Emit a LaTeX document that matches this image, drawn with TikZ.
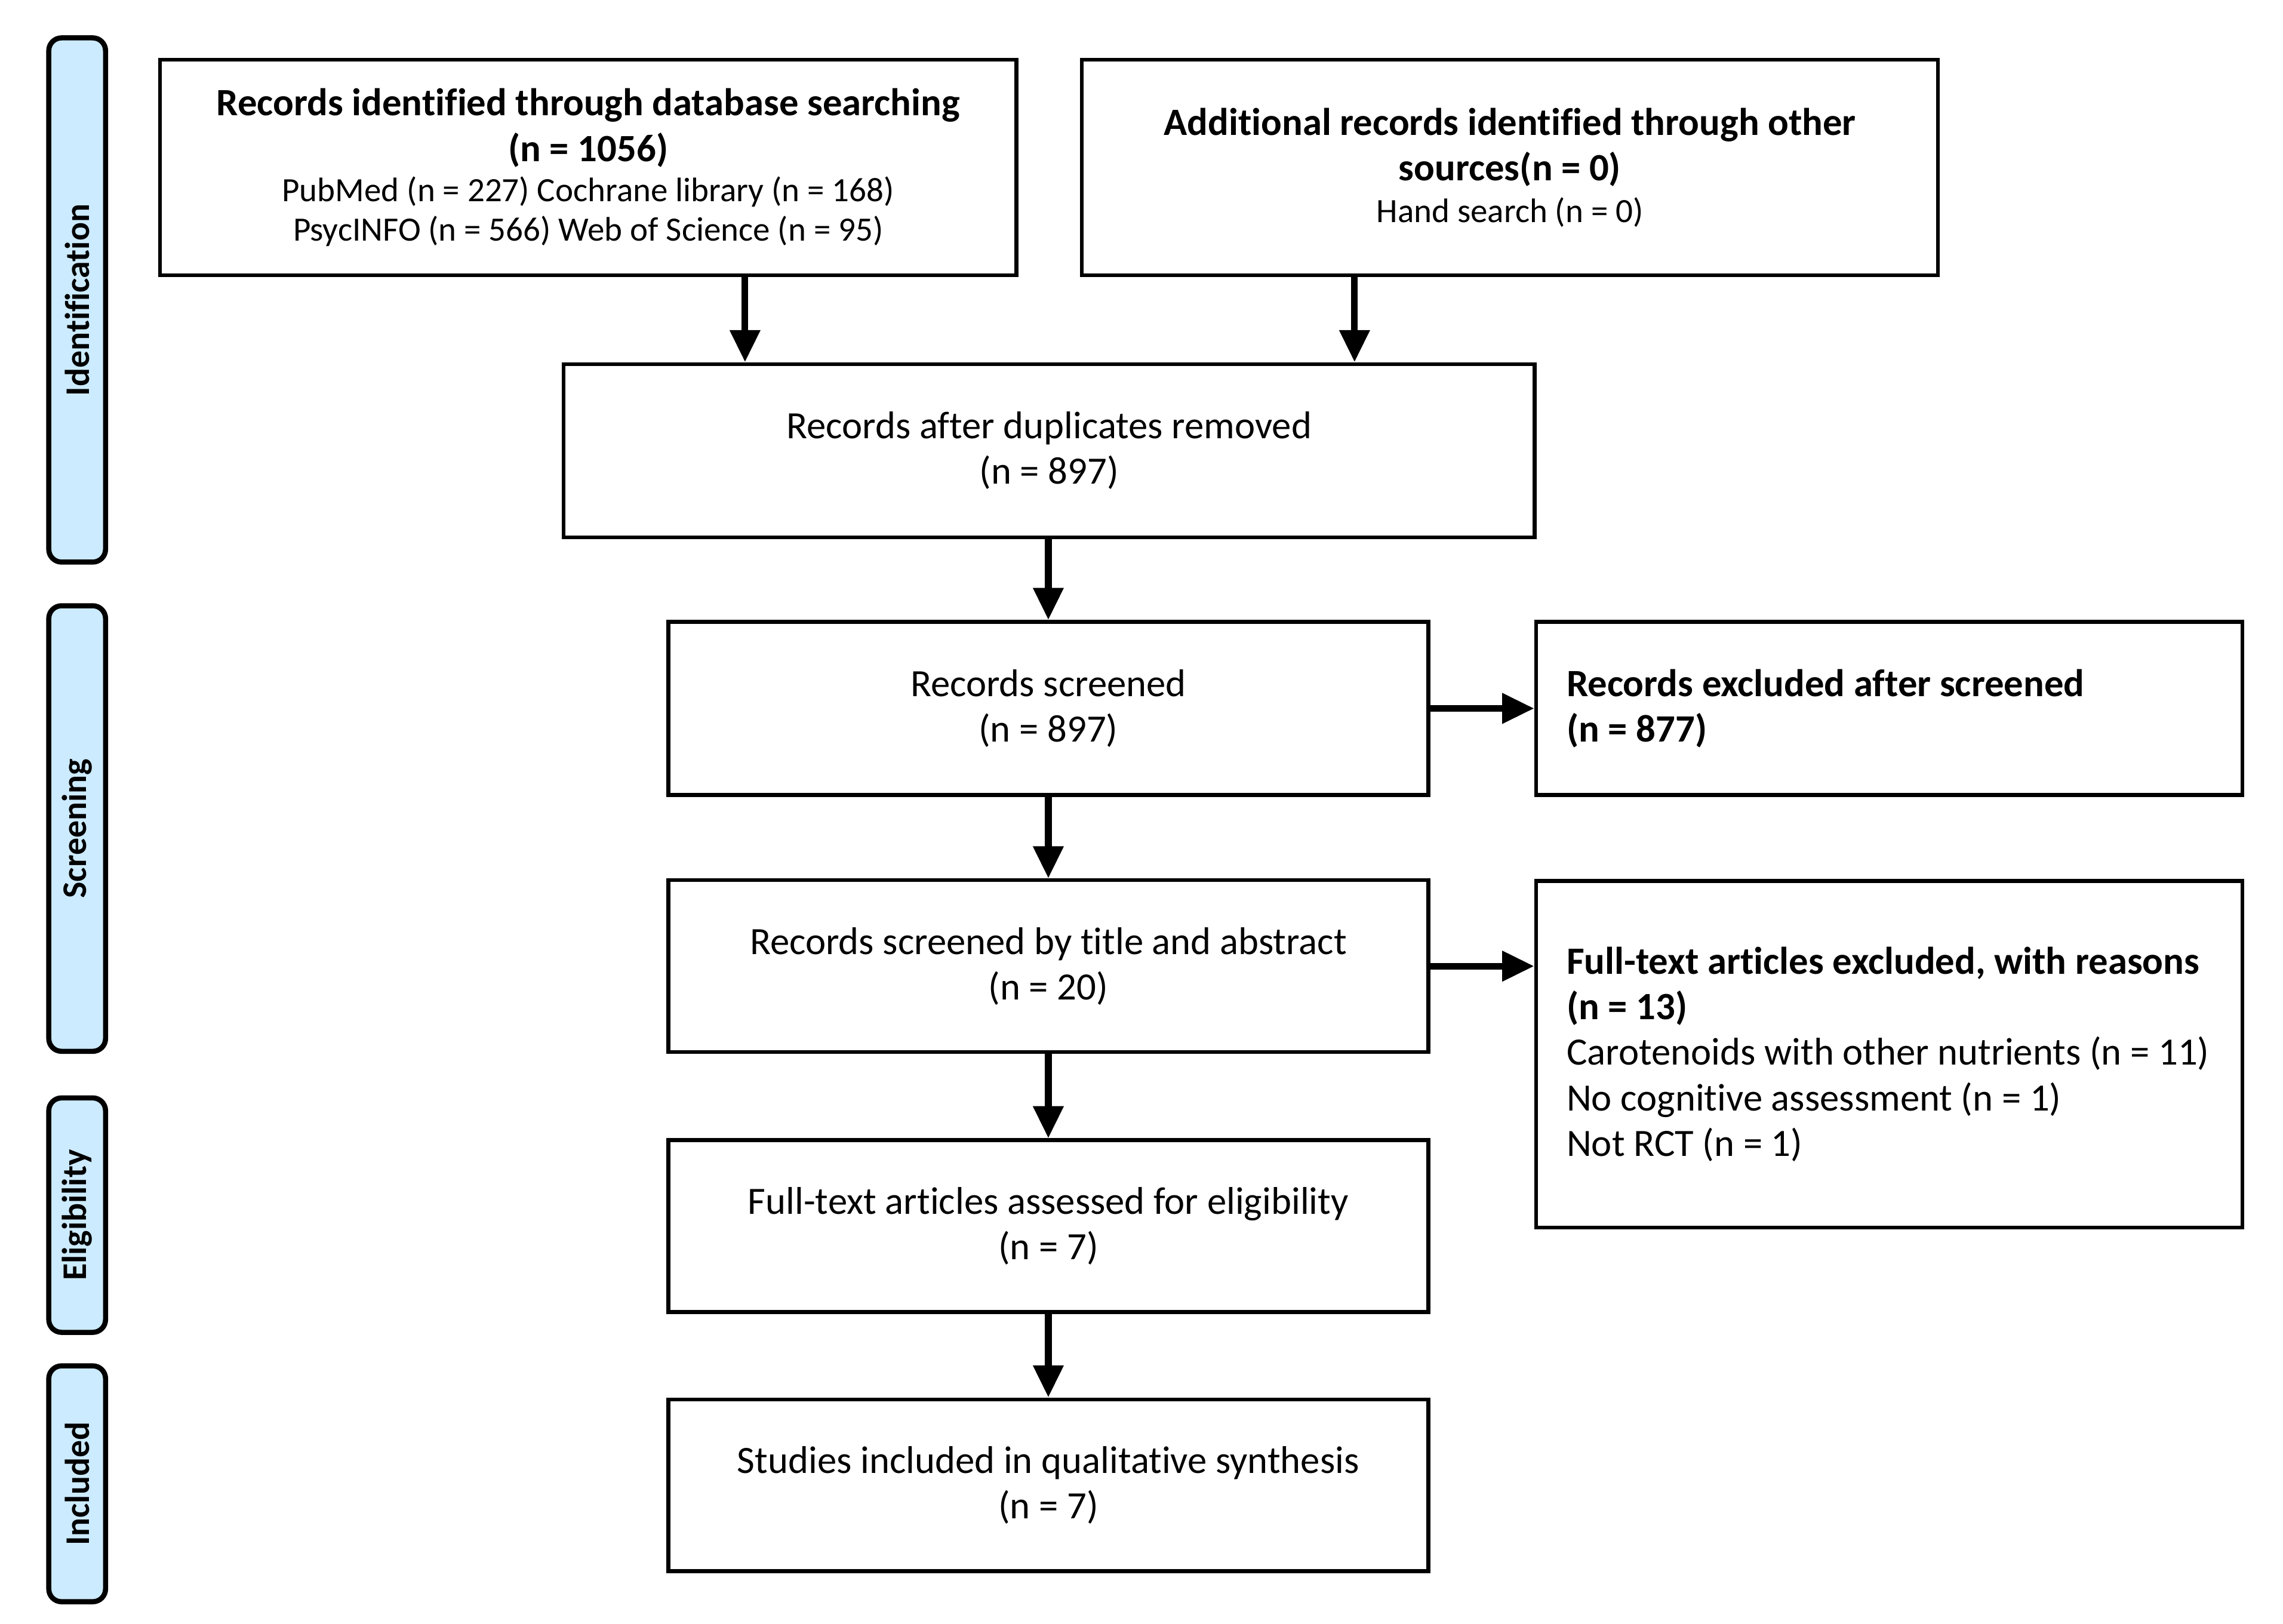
\documentclass[tikz,border=0pt]{standalone}
\usepackage{fontspec}
\setmainfont{Carlito}[Ligatures=NoCommon]
\usepackage{tikz}
\usetikzlibrary{arrows.meta,positioning,calc}
\definecolor{cStage}{HTML}{CCEBFF}
\newcommand{\srcfont}{\fontsize{13.3}{16}\selectfont}

\begin{document}
\begin{tikzpicture}[
  box/.style={
    draw, line width=1.5pt, align=center, inner sep=0pt,
    font=\fontsize{15.1}{17.8}\selectfont
  },
  midbox/.style={box, minimum width=10.44cm, minimum height=2.36cm},
  sidebox/.style={box, minimum width=9.70cm, text width=8.86cm,
    inner xsep=0.42cm, align=flush left},
  stage/.style={
    draw, line width=2pt, fill=cStage, rounded corners=5pt, rotate=90,
    minimum height=0.78cm, inner sep=0pt,
    font=\fontsize{13.5}{16}\selectfont\bfseries
  },
  arr/.style={line width=2.6pt, -{Triangle[length=0.44cm, width=0.40cm]}},
]
\useasboundingbox (0,0) rectangle (31.36,-22.30);
% stages
\node[stage, minimum width=7.20cm] (sId)  at (1.06,-4.12)  {Identification};
\node[stage, minimum width=6.12cm] (sScr) at (1.06,-11.38) {Screening};
\node[stage, minimum width=3.22cm] (sEl)  at (1.06,-16.69) {Eligibility};
\node[stage, minimum width=3.24cm] (sInc) at (1.06,-20.38) {Included};
% Identification
\node[box, minimum width=11.76cm, minimum height=2.96cm] (dbase) at (8.08,-2.30)
  {\textbf{Records identified through database searching}\\
   \textbf{(n = 1056)}\\[-2pt]
   \srcfont PubMed (n = 227) Cochrane library (n = 168)\\[-2.5pt]
   \srcfont PsycINFO (n = 566) Web of Science (n = 95)};
\node[box, minimum width=11.76cm, minimum height=2.96cm] (other) at (20.74,-2.30)
  {\textbf{Additional records identified through other}\\
   \textbf{sources(n = 0)}\\[-1.5pt]
   \srcfont Hand search (n = 0)};
\node[box, minimum width=13.34cm, minimum height=2.38cm] (dupl) at (14.41,-6.19)
  {Records after duplicates removed\\(n = 897)};
% Screening
\node[midbox, minimum height=2.38cm] (scr) at (14.40,-9.73)
  {Records screened\\(n = 897)};
\node[sidebox, minimum height=2.38cm] (excl) at (25.95,-9.73)
  {\textbf{Records excluded after screened}\\
   \textbf{(n = 877)}};
\node[midbox] (title) at (14.40,-13.27)
  {Records screened by title and abstract\\(n = 20)};
\node[sidebox, minimum height=4.76cm] (ftexcl) at (25.95,-14.48)
  {\textbf{Full-text articles excluded, with reasons}\\
   \textbf{(n = 13)}\\
   Carotenoids with other nutrients (n = 11)\\
   No cognitive assessment (n = 1)\\
   Not RCT (n = 1)};
% Eligibility, Included
\node[midbox] (elig) at (14.40,-16.84)
  {Full-text articles assessed for eligibility\\(n = 7)};
\node[midbox] (incl) at (14.40,-20.40)
  {Studies included in qualitative synthesis\\(n = 7)};
% arrows
\draw[arr] ([xshift=2.52cm]dupl.north west |- dbase.south) -- ([xshift=2.52cm]dupl.north west);
\draw[arr] ([xshift=-2.50cm]dupl.north east |- other.south) -- ([xshift=-2.50cm]dupl.north east);
\draw[arr] (dupl.south -| scr.north) -- (scr.north);
\draw[arr] (scr.east) -- (excl.west);
\draw[arr] (scr) -- (title);
\draw[arr] (title.east) -- (title.east -| ftexcl.west);
\draw[arr] (title) -- (elig);
\draw[arr] (elig) -- (incl);
\end{tikzpicture}
\end{document}
